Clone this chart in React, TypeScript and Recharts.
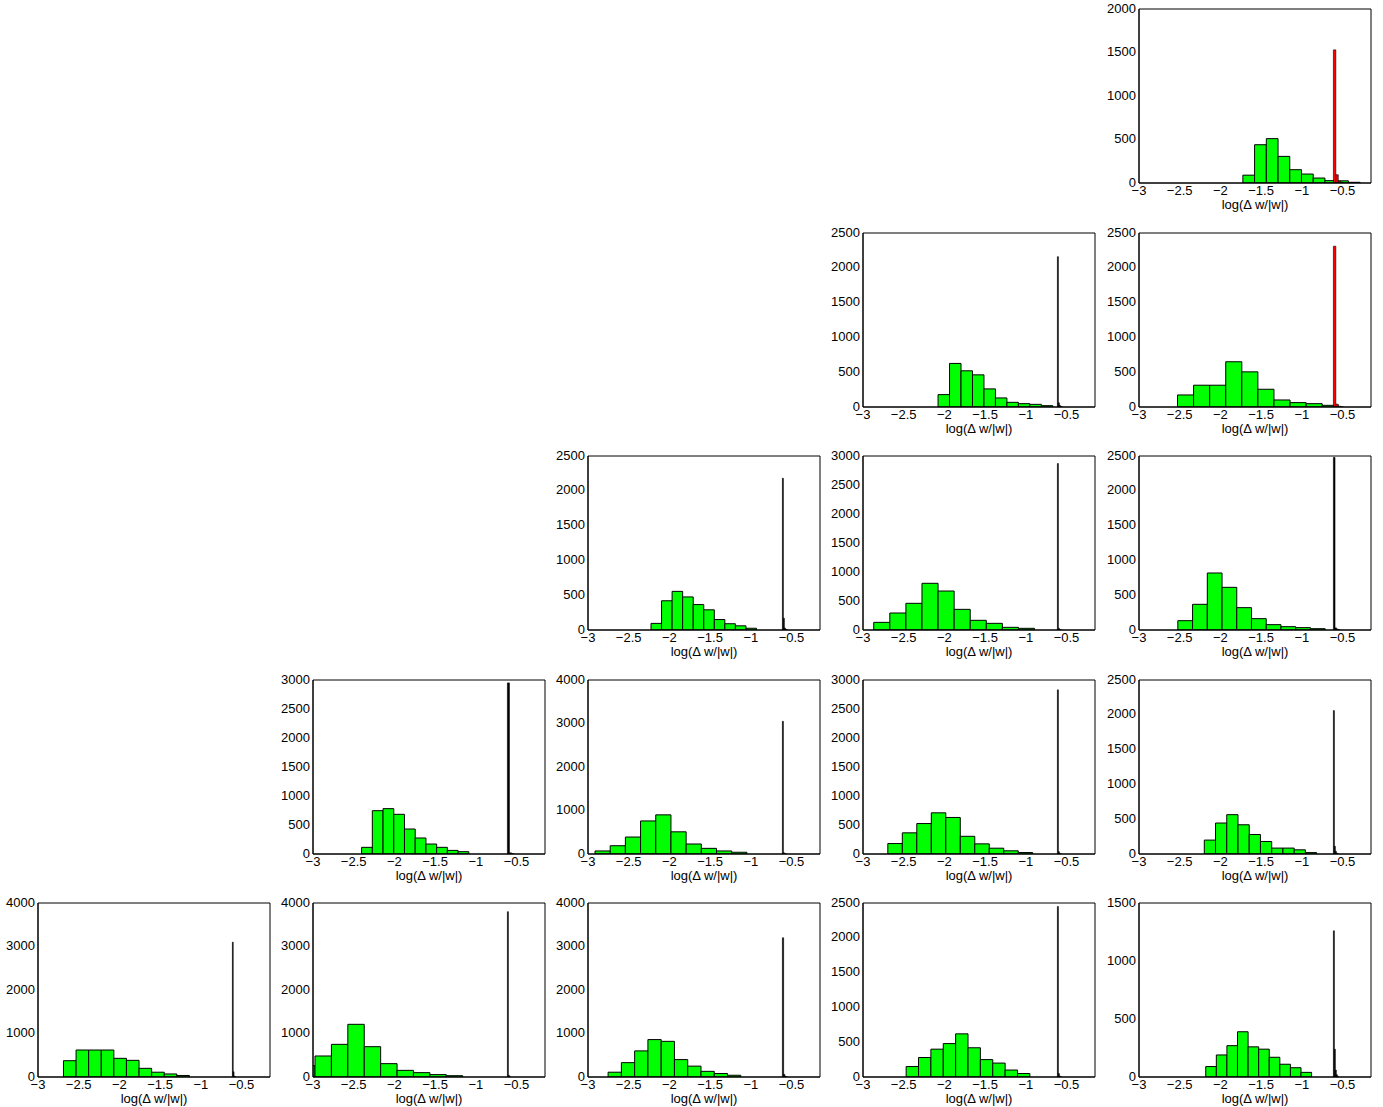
import React from 'react';
import { ComposedChart, XAxis, YAxis, ReferenceArea } from 'recharts';

const xTicks = [-3, -2.5, -2, -1.5, -1, -0.5];
const xLabel = 'log(Δ w/|w|)';

// which cell of the 5x5 triangle each histogram sits in
const panelRow = [0, 1, 1, 2, 2, 2, 3, 3, 3, 3, 4, 4, 4, 4, 4];
const panelCol = [4, 3, 4, 2, 3, 4, 1, 2, 3, 4, 0, 1, 2, 3, 4];

const yMax = [2000, 2500, 2500, 2500, 3000, 2500, 3000, 4000, 3000, 2500, 4000, 4000, 4000, 2500, 1500];

// green histogram: first bin edge, bin width, counts
const binStart = [-1.724, -2.078, -2.527, -2.226, -2.868, -2.523, -2.403, -2.914, -2.695, -2.198, -2.687, -3.177, -2.753, -2.47, -2.18];
const binWidth = [0.144, 0.141, 0.1975, 0.1296, 0.1975, 0.181, 0.1317, 0.1866, 0.178, 0.138, 0.1547, 0.2016, 0.163, 0.152, 0.13];
const greenCounts = [
  [90, 440, 510, 306, 153, 103, 57, 27, 25, 8],
  [178, 626, 520, 462, 260, 130, 67, 48, 38, 19],
  [173, 313, 313, 650, 505, 255, 101, 63, 48, 24],
  [95, 420, 555, 475, 365, 290, 150, 90, 60, 25],
  [132, 293, 460, 805, 672, 356, 167, 115, 46, 29],
  [134, 369, 819, 613, 321, 163, 77, 48, 34, 19],
  [115, 747, 782, 684, 431, 276, 172, 115, 62, 40],
  [70, 190, 390, 760, 900, 510, 230, 130, 70, 40],
  [180, 365, 525, 710, 630, 305, 175, 100, 55, 25],
  [200, 445, 565, 420, 280, 180, 85, 85, 60, 20],
  [375, 620, 620, 620, 429, 383, 199, 110, 70, 35],
  [260, 483, 751, 1211, 697, 307, 153, 100, 55, 30],
  [110, 330, 600, 860, 820, 400, 250, 130, 80, 40],
  [150, 280, 400, 480, 620, 420, 250, 200, 100, 50],
  [90, 190, 270, 390, 260, 240, 170, 110, 80, 40],
];

// narrow spike near -0.6
const spikeStart = -0.612;
const spikeWidth = [0.03, 0.012, 0.03, 0.012, 0.012, 0.02, 0.025, 0.012, 0.012, 0.012, 0.01, 0.012, 0.015, 0.012, 0.012];
const spikeCounts = [
  [1530, 95, 20, 8],
  [2160, 60, 25, 10, 5],
  [2310, 40, 12, 5],
  [2180, 170, 30, 10, 4],
  [2870, 30, 10, 4],
  [2480, 30, 12, 5],
  [2950, 20, 8],
  [3050, 30, 10, 4],
  [2830, 40, 10, 4],
  [2060, 110, 40, 15, 6],
  [3100, 120, 20, 6],
  [3800, 40, 10],
  [3200, 60, 15, 5],
  [2450, 50, 15, 5],
  [1260, 240, 60, 20, 8],
];
const spikeRed = [true, false, true, false, false, false, false, false, false, false, false, false, false, false, false];

const X_DOMAIN: [number, number] = [-3, -0.15];
const COL_LEFT = [0, 275, 550, 825, 1101];
const ROW_TOP = [0, 224, 447, 671, 894];
const tickStyle = { fontSize: 13, fill: '#000' };
const minus = (v: number) => String(v).replace('-', '\u2212');

const Panel = ({ i }: { i: number }) => {
  const bins = greenCounts[i].map((c, k) => ({
    lo: binStart[i] + k * binWidth[i],
    hi: binStart[i] + (k + 1) * binWidth[i],
    count: c,
  }));
  const spike = spikeCounts[i].map((c, k) => ({
    lo: spikeStart + k * spikeWidth[i],
    hi: spikeStart + (k + 1) * spikeWidth[i],
    count: c,
  }));
  const step = yMax[i] >= 4000 ? 1000 : 500;
  const yTicks: number[] = [];
  for (let v = 0; v <= yMax[i]; v += step) yTicks.push(v);

  return (
    <div style={{ position: 'absolute', left: COL_LEFT[panelCol[i]], top: ROW_TOP[panelRow[i]] }}>
      <ComposedChart width={275} height={223} data={bins} margin={{ top: 9, right: 5, left: 0, bottom: 10 }}>
        <XAxis
          type="number"
          dataKey="lo"
          domain={X_DOMAIN}
          allowDataOverflow
          ticks={xTicks}
          interval={0}
          tickFormatter={minus}
          tickLine={false}
          tickSize={0}
          tickMargin={3}
          tick={tickStyle}
          height={30}
          axisLine={{ stroke: '#000' }}
          label={{ value: xLabel, position: 'insideBottom', offset: 4, fontSize: 13, fill: '#000' }}
        />
        <YAxis
          type="number"
          domain={[0, yMax[i]]}
          allowDataOverflow
          ticks={yTicks}
          interval={0}
          tickLine={false}
          tickSize={0}
          tickMargin={3}
          tick={{ ...tickStyle, dy: -1 }}
          width={38}
          axisLine={{ stroke: '#000' }}
        />
        {bins.map((b, k) => (
          <ReferenceArea key={'g' + k} x1={b.lo} x2={b.hi} y1={0} y2={b.count} ifOverflow="hidden" fill="#00ff00" fillOpacity={1} stroke="#000" strokeWidth={1} />
        ))}
        {spike.map((b, k) => (
          <ReferenceArea key={'s' + k} x1={b.lo} x2={b.hi} y1={0} y2={b.count} ifOverflow="hidden" fill={spikeRed[i] ? '#ff0000' : '#000'} fillOpacity={1} stroke="#000" strokeWidth={0.6} />
        ))}
        {/* axes box */}
        <ReferenceArea x1={X_DOMAIN[0]} x2={X_DOMAIN[1]} y1={0} y2={yMax[i]} ifOverflow="visible" fill="none" stroke="#000" strokeWidth={1} />
      </ComposedChart>
    </div>
  );
};

export default function App() {
  return (
    <div style={{ position: 'absolute', left: 0, top: 0, width: 1383, height: 1107, background: '#fff', fontFamily: "'Liberation Sans', Arial, sans-serif" }}>
      {greenCounts.map((_, i) => (
        <Panel key={i} i={i} />
      ))}
    </div>
  );
}
